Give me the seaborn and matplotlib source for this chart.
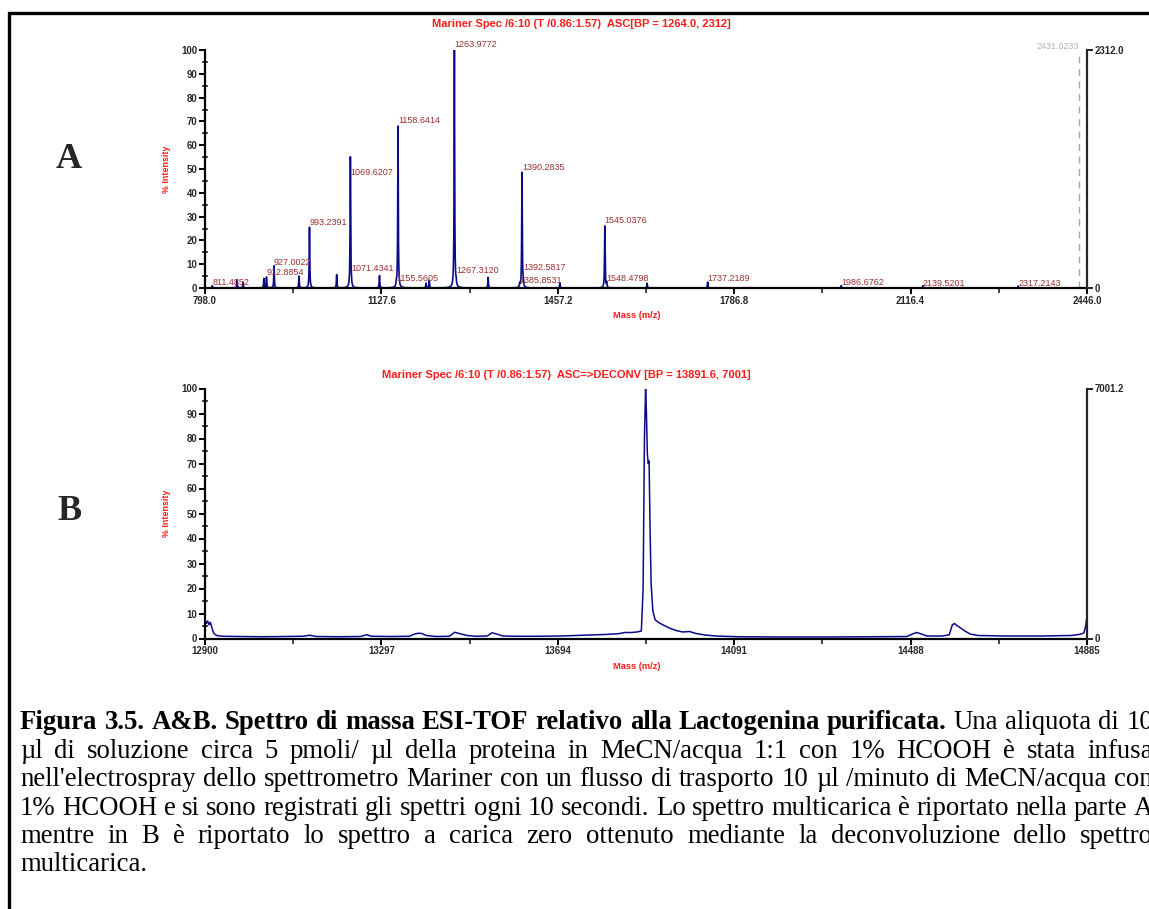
import numpy as np
import matplotlib
matplotlib.use("Agg")
import matplotlib.pyplot as plt
import seaborn as sns
from matplotlib.ticker import FixedLocator, MultipleLocator
from matplotlib.patches import Rectangle

# ---------------- Panel A: multiply charged ESI-TOF spectrum ----------------
peak_mz = [811.4852, 857.8, 869.0, 908.0, 912.8854, 927.0022, 973.6, 993.2391,
           1044.0, 1069.6207, 1071.4341, 1124.0, 1155.5605, 1158.6414, 1211.0,
           1217.0, 1263.9772, 1267.3120, 1327.0, 1385.8531, 1390.2835, 1392.5817,
           1461.0, 1545.0376, 1548.4798, 1624.0, 1737.2189, 1986.6762, 2139.5201,
           2317.2143]
peak_int = [1.0, 3.5, 2.5, 4.0, 4.5, 9.3, 5.0, 25.5,
            5.6, 55.0, 1.2, 5.2, 1.5, 68.0, 2.0,
            3.2, 100.0, 1.5, 4.5, 1.5, 48.5, 2.0,
            2.0, 26.0, 2.0, 2.0, 2.5, 1.0, 1.0,
            0.8]
labelled_mz = [811.4852, 912.8854, 927.0022, 993.2391, 1069.6207, 1071.4341,
               1155.5605, 1158.6414, 1263.9772, 1267.3120, 1385.8531, 1390.2835,
               1392.5817, 1545.0376, 1548.4798, 1737.2189, 1986.6762, 2139.5201,
               2317.2143]
# vertical placement of each peak label (bottom of text, % intensity)
label_y = [0.6, 4.8, 9.0, 25.8, 46.6, 6.5,
           1.9, 68.4, 100.6, 5.3, 1.1, 48.8,
           6.9, 26.6, 2.3, 1.9, 0.6, 0.2,
           0.2]
ticks_a = [798.0, 1127.6, 1457.2, 1786.8, 2116.4, 2446.0]
tick_labels_a = ["798.0", "1127.6", "1457.2", "1786.8", "2116.4", "2446.0"]
bp_a_mass, bp_a_counts = 1264.0, 2312.0
marker_mz = 2431.0233

# ---------------- Panel B: deconvoluted (zero charge) spectrum ----------------
mass_b = [12900, 12903, 12906, 12909, 12912, 12916, 12920, 12926, 12940, 12980,
          13030, 13080, 13120, 13136, 13150, 13200, 13250, 13264, 13275, 13320,
          13360, 13372, 13380, 13388, 13398, 13420, 13450, 13462, 13472, 13490,
          13510, 13535, 13546, 13556, 13570, 13600, 13650, 13700, 13750, 13800,
          13830, 13845, 13860, 13872, 13882, 13886, 13889, 13891.6, 13893.5, 13895.5,
          13897.5, 13899.5, 13901.5, 13904, 13908, 13913, 13920, 13930, 13945, 13960,
          13975, 13990, 14005, 14025, 14050, 14100, 14200, 14300, 14400, 14480,
          14492, 14502, 14512, 14525, 14560, 14575, 14582, 14587, 14592, 14600,
          14610, 14622, 14640, 14700, 14780, 14850, 14870, 14878, 14882, 14885]
int_b = [7.5, 6.0, 7.0, 5.5, 6.5, 4.0, 2.0, 1.2, 0.9, 0.8,
         0.7, 0.8, 0.9, 1.3, 0.8, 0.7, 0.8, 1.5, 0.9, 0.8,
         0.9, 1.8, 2.1, 2.0, 1.2, 0.8, 0.9, 2.5, 2.0, 1.2,
         0.9, 1.0, 2.3, 1.8, 1.0, 0.9, 0.9, 1.0, 1.3, 1.6,
         1.9, 2.4, 2.4, 2.6, 3.0, 20.0, 80.0, 100.0, 90.0, 74.0,
         70.0, 71.0, 45.0, 22.0, 11.0, 7.5, 6.5, 5.5, 4.2, 3.2,
         2.6, 2.8, 2.0, 1.4, 1.0, 0.7, 0.6, 0.6, 0.7, 0.8,
         1.8, 2.4, 1.8, 1.0, 1.0, 1.5, 5.5, 6.0, 5.2, 4.3,
         3.0, 1.8, 1.2, 1.0, 1.0, 1.2, 1.7, 2.2, 5.0, 9.0]
ticks_b = [12900, 13297, 13694, 14091, 14488, 14885]
tick_labels_b = ["12900", "13297", "13694", "14091", "14488", "14885"]
bp_b_mass, bp_b_counts = 13891.6, 7001.2

caption = [
    [("Figura 3.5. A&B. Spettro di massa ESI-TOF relativo alla Lactogenina purificata.", "bold"),
     ("Una aliquota di 10", "normal")],
    [("µl di soluzione circa 5 pmoli/ µl della proteina in MeCN/acqua 1:1 con 1% HCOOH è stata infusa", "normal")],
    [("nell'electrospray dello spettrometro Mariner con un flusso di trasporto 10 µl /minuto di MeCN/acqua con", "normal")],
    [("1% HCOOH e si sono registrati gli spettri ogni 10 secondi. Lo spettro multicarica è riportato nella parte A", "normal")],
    [("mentre in B è riportato lo spettro a carica zero ottenuto mediante la deconvoluzione dello spettro", "normal")],
    [("multicarica.", "normal")],
]

# ---------------------------------------------------------------------------
sns.set_style("ticks")
plt.rcParams["font.family"] = ["Liberation Sans", "DejaVu Sans"]

W, H = 1149, 909
fig = plt.figure(figsize=(W / 100, H / 100), dpi=100)
fig.patch.set_facecolor("white")

TRACE = "#0b0b8a"
RED = "#ff1a1a"
LABEL_RED = "#9c2f30"
SERIF = "Liberation Serif"


def fx(px):
    return px / W


def fy(py):
    return 1 - py / H


def style_axes(ax, xticks, xlabels, right_max, right_label):
    ax.set_ylim(0, 100)
    ax.set_xlim(xticks[0], xticks[-1])
    for s in ("top", "right"):
        ax.spines[s].set_visible(False)
    for s in ("left", "bottom"):
        ax.spines[s].set_linewidth(1.6)
        ax.spines[s].set_color("black")
    ax.yaxis.set_major_locator(MultipleLocator(10))
    ax.yaxis.set_minor_locator(MultipleLocator(5))
    ax.xaxis.set_major_locator(FixedLocator(xticks))
    mids = [(a + b) / 2 for a, b in zip(xticks[:-1], xticks[1:])]
    ax.xaxis.set_minor_locator(FixedLocator(mids))
    ax.set_xticklabels(xlabels)
    ax.tick_params(axis="both", which="major", direction="out", length=4, width=1.4,
                   labelsize=6.9, pad=1.5, color="black")
    ax.tick_params(axis="y", which="minor", direction="inout", length=4, width=1.2)
    ax.tick_params(axis="x", which="minor", direction="out", length=3.5, width=1.2)
    for lab in ax.get_xticklabels() + ax.get_yticklabels():
        lab.set_fontweight("bold")
    ax.set_xlabel("Mass (m/z)", color=RED, fontweight="bold", fontsize=6.7)
    ax.xaxis.set_label_coords(0.49, -0.095)
    ax.set_ylabel("% Intensity", color=RED, fontweight="bold", fontsize=6.4)
    ax.yaxis.set_label_coords(-0.038, 0.5)

    ax2 = ax.twinx()
    ax2.set_ylim(0, right_max)
    ax2.set_yticks([0, right_max])
    ax2.set_yticklabels(["0", right_label])
    for s in ("top", "left", "bottom"):
        ax2.spines[s].set_visible(False)
    ax2.spines["right"].set_linewidth(1.6)
    ax2.tick_params(axis="y", direction="out", length=4, width=1.4, labelsize=6.9, pad=1.5)
    for lab in ax2.get_yticklabels():
        lab.set_fontweight("bold")
    ax2.grid(False)
    return ax2


# ---------------- Panel A ----------------
axA = fig.add_axes([fx(205), fy(288), fx(1087 - 205), (288 - 50) / H])
grid = np.union1d(np.arange(798.0, 2446.0, 0.05), peak_mz)
profile = np.zeros_like(grid)
for c, h in zip(peak_mz, peak_int):
    profile += h / (1 + ((grid - c) / 0.6) ** 2)
sns.lineplot(x=grid, y=profile, ax=axA, color=TRACE, linewidth=1.2,
             estimator=None, sort=False)
style_axes(axA, ticks_a, tick_labels_a, bp_a_counts, f"{bp_a_counts:.1f}")
for mz, ly in zip(labelled_mz, label_y):
    axA.text(mz, ly, f"{mz:.4f}", color=LABEL_RED, fontsize=6.5,
             ha="left", va="bottom", clip_on=False)
axA.plot([marker_mz, marker_mz], [0, 99], color="#a8a8a8", linewidth=1.0,
         linestyle=(0, (5, 4)))
axA.text(marker_mz, 101.6, f"{marker_mz:.4f}", color="#b4b4b4", fontsize=6.5,
         ha="right", va="center", clip_on=False)

fig.text(fx(581), fy(24),
         f"Mariner Spec /6:10 (T /0.86:1.57)  ASC[BP = {bp_a_mass:.1f}, {bp_a_counts:.0f}]",
         color=RED, fontweight="bold", fontsize=8.0, ha="center", va="center")

# ---------------- Panel B ----------------
axB = fig.add_axes([fx(205), fy(638.5), fx(1087 - 205), 250 / H])
sns.lineplot(x=mass_b, y=int_b, ax=axB, color=TRACE, linewidth=1.1,
             estimator=None, sort=False)
style_axes(axB, ticks_b, tick_labels_b, bp_b_counts, f"{bp_b_counts:.1f}")
fig.text(fx(566), fy(375),
         f"Mariner Spec /6:10 (T /0.86:1.57)  ASC=>DECONV [BP = {bp_b_mass:.1f}, {bp_b_counts:.0f}]",
         color=RED, fontweight="bold", fontsize=8.0, ha="center", va="center")

# panel letters
fig.text(fx(69), fy(160), "A", family=SERIF, fontweight="bold",
         fontsize=26, ha="center", va="center")
fig.text(fx(69), fy(512), "B", family=SERIF, fontweight="bold",
         fontsize=26, ha="center", va="center")

# frame around the figure block
fig.add_artist(Rectangle((fx(9), -0.2), 1.5, fy(13) + 0.2, transform=fig.transFigure,
                         fill=False, edgecolor="black", linewidth=2.4, clip_on=False))

# ---------------- justified caption ----------------
renderer = fig.canvas.get_renderer()


def text_width(s, weight, size):
    t = fig.text(0, 0, s, family=SERIF, fontweight=weight, fontsize=size)
    w = t.get_window_extent(renderer).width
    t.remove()
    return w


left_px, right_px = 20, 1153
# size chosen so the bold heading runs from the left margin to x = 945 px
heading = caption[0][0][0]
cap_size = 10 * (945 - left_px) / text_width(heading, "bold", 10)
space_w = text_width("a b", "normal", cap_size) - text_width("ab", "normal", cap_size)
baselines = [729, 758, 786, 815, 843, 871]
for i, (segments, base) in enumerate(zip(caption, baselines)):
    words = []
    for text, weight in segments:
        for w in text.split(" "):
            words.append((w, weight))
    objs, widths = [], []
    for w, weight in words:
        t = fig.text(0, fy(base), w, family=SERIF, fontweight=weight,
                     fontsize=cap_size, ha="left", va="baseline", color="black")
        objs.append(t)
        widths.append(t.get_window_extent(renderer).width)
    if i == len(caption) - 1:
        gap = space_w
    else:
        gap = (right_px - left_px - sum(widths)) / max(len(words) - 1, 1)
    x = left_px
    for t, wd in zip(objs, widths):
        t.set_x(fx(x))
        x += wd + gap

fig.savefig("out.png", dpi=100, facecolor="white")
